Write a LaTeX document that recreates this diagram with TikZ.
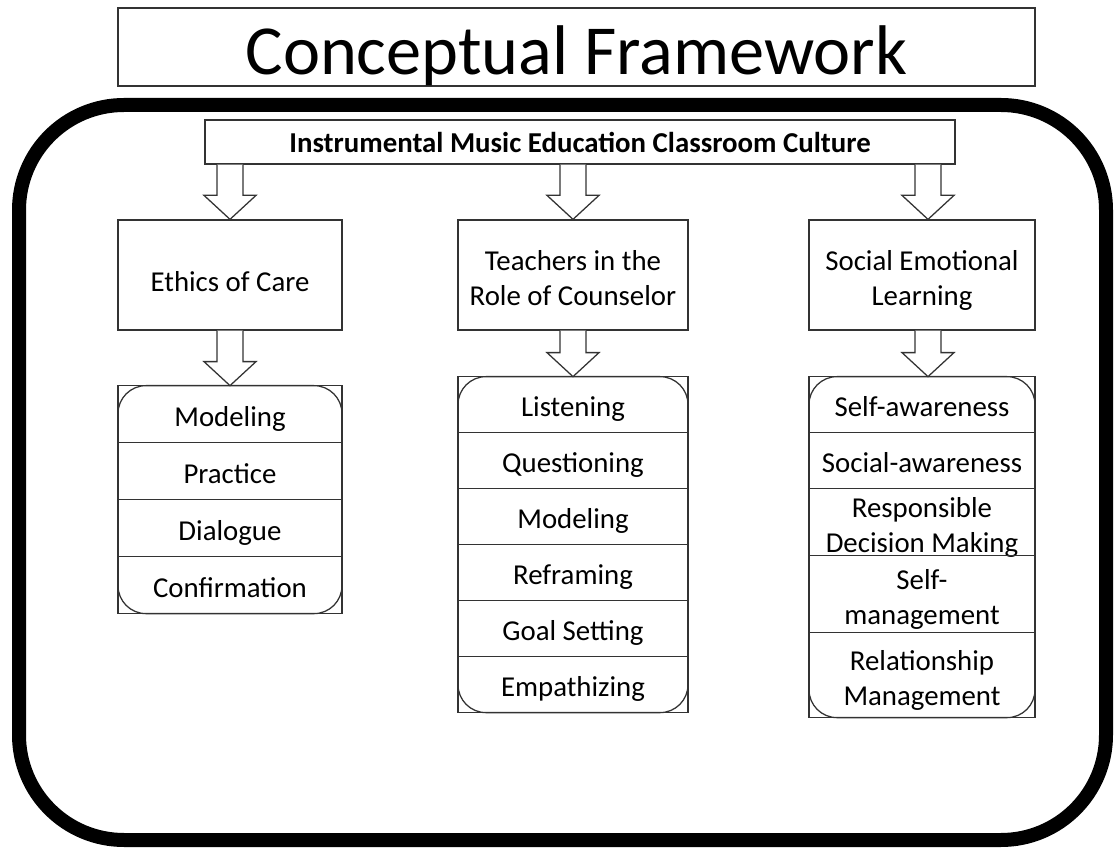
\documentclass[tikz,border=0pt]{standalone}
\usepackage{fontspec}
\setmainfont{Carlito}
\usetikzlibrary{positioning,fit,calc}

\tikzset{
  thinline/.style={draw=black!80, line width=0.9pt},
  bodyfont/.style={font=\fontsize{20.5}{25}\selectfont},
  conceptbox/.style={thinline, fill=white, minimum height=2.75cm, align=center, text height=0.85cm, bodyfont},
  twolines/.style={text height=1.6cm, text depth=0.05cm},
  rowbox/.style={thinline, minimum height=1.4cm, align=center, inner sep=0pt, outer sep=0pt,
                 text height=0.75cm, text depth=0.15cm, bodyfont},
  tallrow/.style={rowbox, text height=1.6cm, text depth=0.075cm},
  roundcover/.style={thinline, rounded corners=0.7cm, inner sep=0pt, outer sep=0pt},
  hollow/.style={thinline, fill=white, line join=miter},
}

% hollow block arrow from one node down to another (#1 = x offset in cm)
\newcommand{\blockarrow}[3][0]{%
  \draw[hollow] let \p1=(#2.south), \p2=(#3.north) in
    ({\x2+#1cm-0.325cm},\y1) -- ({\x2+#1cm-0.325cm},{\y2+0.6cm}) -- ({\x2+#1cm-0.65cm},{\y2+0.6cm})
    -- ({\x2+#1cm},\y2) -- ({\x2+#1cm+0.65cm},{\y2+0.6cm}) -- ({\x2+#1cm+0.325cm},{\y2+0.6cm})
    -- ({\x2+#1cm+0.325cm},\y1);}

\begin{document}
\begin{tikzpicture}
  \useasboundingbox[fill=white] (0,0) rectangle (27.875,-21.2);

  % title and frame
  \node[thinline, minimum width=22.925cm, minimum height=1.95cm, inner sep=0pt, text height=1.5cm, text depth=0.1cm,
        font=\fontsize{50}{56}\selectfont] (title) at (14.4125,-1.175) {Conceptual Framework};
  \draw[line width=0.35cm, rounded corners=2.625cm] (0.475,-2.625) rectangle (27.65,-21.0);

  \node[thinline, minimum width=18.75cm, minimum height=1.1cm, font=\fontsize{20.5}{24}\selectfont\bfseries] (culture) at (14.5,-3.55) {Instrumental Music Education Classroom Culture};

  % three strands
  \node[conceptbox, minimum width=5.6cm] (care) at (5.75,-6.875) {Ethics of Care};
  \node[conceptbox, twolines, minimum width=5.75cm] (counsel) at (14.325,-6.875) {Teachers in the\\Role of Counselor};
  \node[conceptbox, twolines, minimum width=5.65cm] (sel) at (23.05,-6.875) {Social Emotional\\Learning};

  % ethics of care list
  \node[rowbox, minimum width=5.6cm, minimum height=1.425cm, below=1.375cm of care] (c1) {Modeling};
  \node[rowbox, minimum width=5.6cm, minimum height=1.425cm, below=0pt of c1] (c2) {Practice};
  \node[rowbox, minimum width=5.6cm, minimum height=1.425cm, below=0pt of c2] (c3) {Dialogue};
  \node[rowbox, minimum width=5.6cm, minimum height=1.425cm, below=0pt of c3] (c4) {Confirmation};
  \node[roundcover, fit=(c1)(c4)] (carelist) {};

  % counselor list
  \node[rowbox, minimum width=5.75cm, below=1.15cm of counsel] (t1) {Listening};
  \node[rowbox, minimum width=5.75cm, below=0pt of t1] (t2) {Questioning};
  \node[rowbox, minimum width=5.75cm, below=0pt of t2] (t3) {Modeling};
  \node[rowbox, minimum width=5.75cm, below=0pt of t3] (t4) {Reframing};
  \node[rowbox, minimum width=5.75cm, below=0pt of t4] (t5) {Goal Setting};
  \node[rowbox, minimum width=5.75cm, below=0pt of t5] (t6) {Empathizing};
  \node[roundcover, fit=(t1)(t6)] (counsellist) {};

  % sel list
  \node[rowbox, minimum width=5.65cm, below=1.15cm of sel] (s1) {Self-awareness};
  \node[rowbox, minimum width=5.65cm, below=0pt of s1] (s2) {Social-awareness};
  \node[tallrow, minimum width=5.65cm, minimum height=1.675cm, below=0pt of s2] (s3) {Responsible\\Decision Making};
  \node[tallrow, minimum width=5.65cm, minimum height=1.925cm, below=0pt of s3] (s4) {Self-\\management};
  \node[tallrow, minimum width=5.65cm, minimum height=2.125cm, below=0pt of s4] (s5) {Relationship\\Management};
  \node[roundcover, fit=(s1)(s5)] (sellist) {};

  % arrows
  \blockarrow{culture}{care}
  \blockarrow{culture}{counsel}
  \blockarrow[0.15]{culture}{sel}
  \blockarrow{care}{c1}
  \blockarrow{counsel}{t1}
  \blockarrow[0.15]{sel}{s1}
\end{tikzpicture}
\end{document}
